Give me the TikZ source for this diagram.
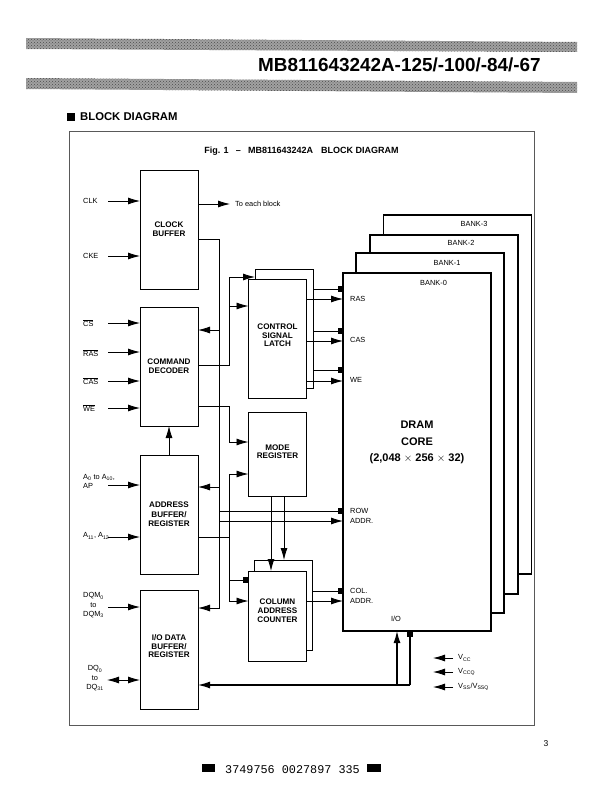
\documentclass[tikz,border=0pt]{standalone}
\usepackage{fontspec}
\setmainfont{Liberation Sans}
\newfontfamily\barcodefont{Liberation Mono}
\usetikzlibrary{arrows.meta, patterns}
\tikzset{
    block/.style={draw, fill=white, line width=0.8pt, outer sep=0pt, inner sep=0pt, align=center,
        font=\fontsize{8.1}{8.6}\selectfont\bfseries, minimum width=58pt},
    bank/.style={draw, fill=white, line width=1.3pt, outer sep=0pt, inner sep=0pt, minimum width=148pt},
    lbl/.style={inner sep=0pt, align=center, font=\fontsize{7.4}{9.4}\selectfont},
    corelbl/.style={inner sep=0pt, font=\fontsize{11}{13}\selectfont\bfseries},
    sig/.style={line width=0.8pt, -{Latex[length=12pt,width=7pt]}},
    sigsq/.style={line width=0.8pt, -{Square[length=5.5pt,width=5.5pt]}},
    bothway/.style={line width=0.8pt, {Latex[length=12pt,width=7pt]}-{Latex[length=12pt,width=7pt]}},
    headbar/.style={fill=gray!74, postaction={pattern=crosshatch dots, pattern color=gray!60!black}},
}
\begin{document}
\begin{tikzpicture}[x=1pt, y=-1pt]
    \useasboundingbox (0,0) rectangle (599,800);

    % header bars and titles
    \path[headbar] (26,38) -- (577,42) -- (577,52) -- (26,49) -- cycle;
    \path[headbar] (26,78) -- (577,82) -- (577,93) -- (26,89) -- cycle;
    \node[inner sep=0pt, anchor=east, font=\fontsize{18.9}{20}\selectfont\bfseries] (parttitle) at (541,65) {MB811643242A-125/-100/-84/-67};
    \fill (67,113) rectangle (75,121);
    \node[inner sep=0pt, anchor=west, font=\fontsize{11.3}{13}\selectfont\bfseries] (sectitle) at (80,117) {BLOCK DIAGRAM};
    \node[draw=gray!70!black, line width=0.8pt, minimum width=465pt, minimum height=594pt, inner sep=0pt] (frame) at (301.5,428) {};
    \node[inner sep=0pt, font=\fontsize{9}{11}\selectfont\bfseries] (figtitle) at (301.5,151) {Fig. 1\hspace{0.8em}–\hspace{0.8em}MB811643242A\hspace{0.6em} BLOCK DIAGRAM};

    % DRAM banks, back to front
    \node[bank, minimum height=359pt] (bank3) at (457.5,394.5) {};
    \node[bank, minimum height=359pt] (bank2) at (444,414.5) {};
    \node[bank, minimum height=360pt] (bank1) at (430,433) {};
    \node[bank, minimum height=358pt] (dram) at (417,452) {};
    \node[lbl] (bank3lbl) at (474,224) {BANK-3};
    \node[lbl] (bank2lbl) at (461,243) {BANK-2};
    \node[lbl] (bank1lbl) at (447,263) {BANK-1};
    \node[lbl] (bank0lbl) at (433.5,283) {BANK-0};
    \node[corelbl] (core1) at (417,425) {DRAM};
    \node[corelbl] (core2) at (417,442) {CORE};
    \node[corelbl] (core3) at (417,459) {(2,048 $\times$ 256 $\times$ 32)};

    % pin names inside the core
    \foreach \nm/\txt/\yy in {pras/RAS/299, pcas/CAS/340, pwe/WE/380, prow/ROW/510.5, prow2/ADDR./520.5, pcol/COL./591, pcol2/ADDR./600.5}
        \node[lbl, anchor=west] (\nm) at (350,\yy) {\txt};
    \node[lbl] (pio) at (396,619) {I/O};

    % left column
    \node[block, minimum height=119pt] (clkbuf) at (169,229.5) {CLOCK\\BUFFER};
    \node[block, minimum height=119pt] (cmddec) at (169,366.5) {COMMAND\\DECODER};
    \node[block, minimum height=119pt] (addr) at (169,514.5) {ADDRESS\\[1pt]BUFFER/\\[1pt]REGISTER};
    \node[block, minimum height=119pt] (iobuf) at (169,649.5) {I/O DATA\\BUFFER/\\REGISTER\\[-2pt]};

    % middle column
    \node[block, minimum height=119pt] (latchback) at (284,328.5) {};
    \node[block, minimum height=119pt] (latch) at (277.5,338.5) {CONTROL\\SIGNAL\\LATCH\\[-2pt]};
    \node[block, minimum height=84pt] (mode) at (277.5,454) {MODE\\REGISTER\\[-4pt]};
    \node[block, minimum height=90pt] (colback) at (283,605) {};
    \node[block, minimum height=90pt] (colcnt) at (277.5,616) {COLUMN\\ADDRESS\\COUNTER\\[2pt]};

    % inputs
    \foreach \nm/\txt/\blk/\yy/\yt in {clk/CLK/clkbuf/201/200.5, cke/CKE/clkbuf/256/255.5,
        cs/$\overline{\mbox{CS}}$/cmddec/323/323, ras/$\overline{\mbox{RAS}}$/cmddec/352/353,
        cas/$\overline{\mbox{CAS}}$/cmddec/381/381, we/$\overline{\mbox{WE}}$/cmddec/408/408,
        amid/A\textsubscript{11}{,} A\textsubscript{12}/addr/537/536}{
        \node[lbl, anchor=west] (\nm lbl) at (83,\yt) {\txt};
        \coordinate (\nm) at (108,\yy);
        \draw[sig] (\nm) -- (\nm -| \blk.west);
    }
    \node[lbl, align=left, anchor=west] (alow) at (83,481.5) {A\textsubscript{0} to A\textsubscript{10},\\AP};
    \coordinate (alowin) at (108,485);
    \draw[sig] (alowin) -- (alowin -| addr.west);
    \node[lbl] (dqm) at (93.5,605.5) {DQM\textsubscript{0}\\to\\DQM\textsubscript{3}};
    \coordinate (dqmin) at (108,607);
    \draw[sig] (dqmin) -- (dqmin -| iobuf.west);
    \node[lbl] (dq) at (95,678.5) {DQ\textsubscript{0}\\to\\DQ\textsubscript{31}};
    \coordinate (dqin) at (107,680);
    \draw[bothway] (dqin) -- (dqin -| iobuf.west);

    % clock outputs
    \node[lbl, anchor=west] (eachblock) at (235,204) {To each block};
    \draw[sig] (clkbuf.east |- eachblock) -- (eachblock.west -| 230,0);
    \coordinate (busa) at (219,239);
    \coordinate (busb) at (219,608);
    \draw[sig] (clkbuf.east |- busa) -- (busa) -- (busb) -- (iobuf.east |- busb);
    \draw[sig] (busa |- 0,330) -- (cmddec.east |- 0,330);
    \draw[sig] (busa |- 0,487) -- (addr.east |- 0,487);
    \draw[sigsq] (busa |- 0,511) -- (dram.west |- 0,511);
    \draw[sig] (busa |- 0,521) -- (dram.west |- 0,521);

    % decoder and address lines
    \coordinate (busc) at (229,365);
    \draw[sig] (cmddec.east |- busc) -- (busc) |- (latchback.west |- 0,277);
    \draw[sig] (busc |- 0,306) -- (latch.west |- 0,306);
    \draw[sig] (cmddec.east |- 0,406) -- (busc |- 0,406) |- (mode.west |- 0,442);
    \draw[sig] (addr.north) -- (cmddec.south);
    \coordinate (busd) at (229,537);
    \draw[line width=0.8pt] (addr.east |- busd) -- (busd);
    \draw[sig] (busd) |- (mode.west |- 0,474);
    \draw[sig] (busd) |- (colcnt.west |- 0,601);
    \draw[sigsq] (busd |- 0,580) -- (colcnt.west |- 0,580);

    % to the core
    \foreach \yy in {289,331,370}
        \draw[sigsq] (latchback.east |- 0,\yy) -- (dram.west |- 0,\yy);
    \foreach \yy in {299,341,381}
        \draw[sig] (latch.east |- 0,\yy) -- (dram.west |- 0,\yy);
    \draw[sigsq] (colback.east |- 0,591) -- (dram.west |- 0,591);
    \draw[sig] (colcnt.east |- 0,601) -- (dram.west |- 0,601);

    % mode register to counter
    \draw[sig] (mode.south -| 271,0) -- (colcnt.north -| 271,0);
    \draw[sig] (mode.south -| 284,0) -- (colback.north -| 284,0);

    % I/O lines
    \coordinate (ioa) at (397,685);
    \coordinate (iob) at (410,685);
    \draw[sig, line width=1.2pt] (iob) -- (iobuf.east |- iob);
    \draw[sig, line width=1.2pt] (ioa) -- (ioa |- dram.south);
    \draw[sigsq, line width=1.2pt] (iob) -- (iob |- dram.south);

    % supplies
    \node[lbl, anchor=west] (vcc) at (458,658) {V\textsubscript{CC}};
    \node[lbl, anchor=west] (vccq) at (458,672) {V\textsubscript{CCQ}};
    \node[lbl, anchor=west] (vss) at (458,687) {V\textsubscript{SS}/V\textsubscript{SSQ}};
    \foreach \nm in {vcc,vccq,vss}
        \draw[sig] ([xshift=-5pt]\nm.west) -- ++(-20,0);

    % page footer
    \node[lbl, font=\fontsize{8.5}{10}\selectfont] (pageno) at (546,744) {3};
    \fill (202,764) rectangle (215,772);
    \node[inner sep=0pt, font=\barcodefont\fontsize{11.8}{13}\selectfont] (barcode) at (292.5,770) {3749756 0027897 335};
    \fill (367,764) rectangle (381,772);
\end{tikzpicture}
\end{document}
